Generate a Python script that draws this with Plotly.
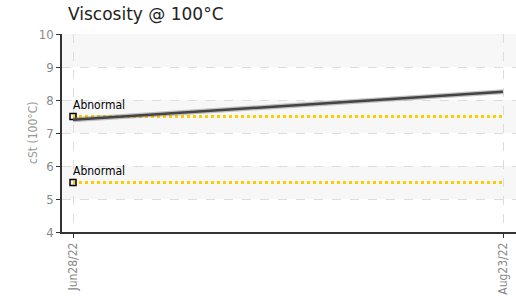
import plotly.graph_objects as go

# Data
dates = ["2022-06-28", "2022-08-23"]
tick_labels = ["Jun28/22", "Aug23/22"]
viscosity = [7.4, 8.25]
limit_dates = ["2022-06-28", "2022-08-23"]
limits = [7.5, 5.5]
limit_labels = ["Abnormal", "Abnormal"]
band_ranges = [(9, 10), (7, 8), (5, 6)]

COND = "Liberation Sans Narrow, DejaVu Sans Condensed, Roboto Condensed, sans-serif"

fig = go.Figure()

# shaded bands
for lo, hi in band_ranges:
    fig.add_shape(type="rect", xref="paper", yref="y", x0=0, x1=1, y0=lo, y1=hi,
                  fillcolor="#f7f7f7", line_width=0, layer="below")

# limit lines
for val, lab in zip(limits, limit_labels):
    fig.add_trace(go.Scatter(x=limit_dates, y=[val, val], mode="lines",
                             line=dict(color="#FFCC00", width=3, dash="dot"),
                             hoverinfo="skip", showlegend=False))
    fig.add_trace(go.Scatter(x=[limit_dates[0]], y=[val], mode="markers",
                             marker=dict(symbol="square-open", size=6, color="#000",
                                         line=dict(width=1.5)),
                             showlegend=False))
    fig.add_annotation(x=limit_dates[0], y=val, text=lab, showarrow=False,
                       xanchor="left", yanchor="bottom", yshift=3, xshift=-2,
                       font=dict(family=COND, size=12, color="#000", weight=500))

# data line (shadow + main)
fig.add_trace(go.Scatter(x=dates, y=viscosity, mode="lines",
                         line=dict(color="rgba(120,120,120,0.45)", width=5),
                         hoverinfo="skip", showlegend=False))
fig.add_trace(go.Scatter(x=dates, y=viscosity, mode="lines",
                         line=dict(color="#444", width=2.5), showlegend=False))

# y-axis title placed as annotation
fig.add_annotation(text="cSt (100°C)", xref="paper", yref="paper",
                   x=(33 - 62) / 454, y=0.5, textangle=-90, showarrow=False,
                   xanchor="center", yanchor="middle",
                   font=dict(family=COND, size=12, color="#999"))

fig.update_layout(
    width=516, height=296,
    margin=dict(l=62, r=0, t=34, b=64),
    plot_bgcolor="white", paper_bgcolor="white",
    title=dict(text="Viscosity @ 100°C", x=68/516, xanchor="left", y=1-14/296,
               yanchor="middle", automargin=False,
               font=dict(family="DejaVu Sans", size=17, color="#222")),
    xaxis=dict(type="date", range=["2022-06-26 13:36", "2022-08-24 16:36"],
               tickvals=dates, ticktext=tick_labels, tickangle=-90,
               showgrid=True, gridcolor="#ddd", griddash="dash",
               showline=True, linecolor="#333", linewidth=1.5,
               ticks="outside", ticklen=4, tickcolor="#333",
               tickfont=dict(family=COND, size=12, color="#888"),
               zeroline=False, automargin=False),
    yaxis=dict(range=[4, 10], dtick=1,
               showgrid=True, gridcolor="#ddd", griddash="dash",
               showline=True, linecolor="#333", linewidth=1.5,
               ticks="outside", ticklen=4, tickcolor="#333",
               tickfont=dict(family=COND, size=13, color="#888"),
               zeroline=False, automargin=False),
)

fig.write_html("out.html", config={"displayModeBar": False},
               post_script="document.body.style.margin='0';")
